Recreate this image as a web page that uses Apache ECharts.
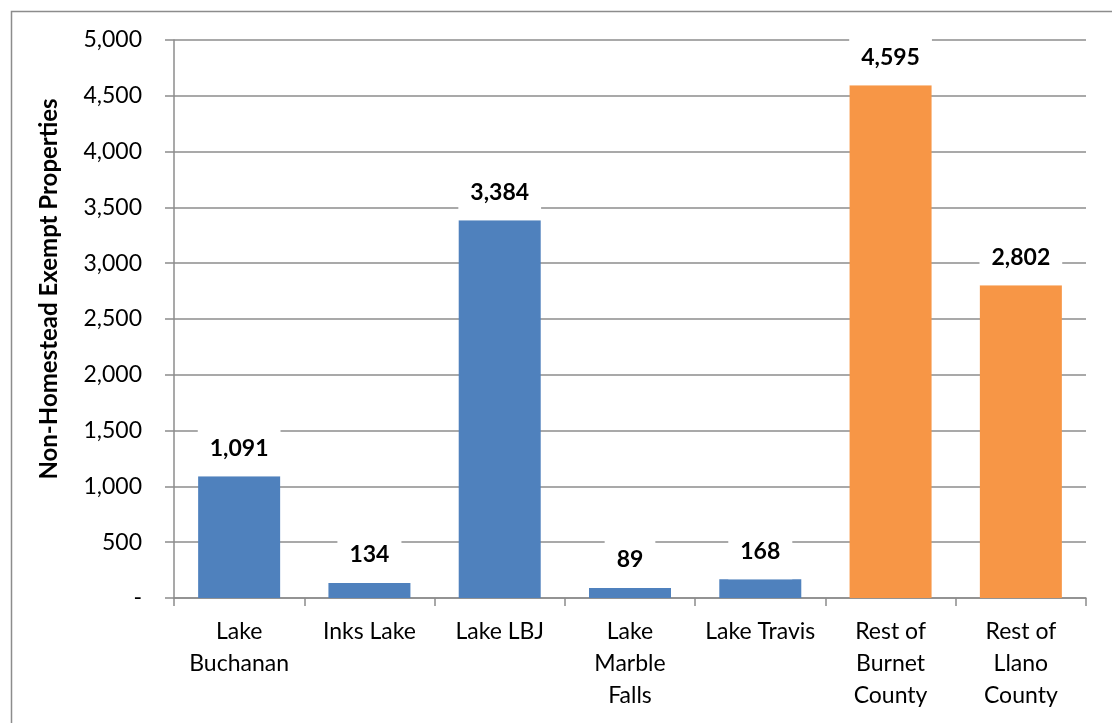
<!DOCTYPE html>
<html>
<head>
<meta charset="utf-8">
<script src="https://cdn.jsdelivr.net/npm/echarts@6/dist/echarts.min.js"></script>
<style>
html,body{margin:0;padding:0;background:#fff;}
#chart{width:1112px;height:723px;}
</style>
</head>
<body>
<div id="chart"></div>
<script>
const categories = ['Lake\nBuchanan', 'Inks Lake', 'Lake LBJ', 'Lake\nMarble\nFalls', 'Lake Travis', 'Rest of\nBurnet\nCounty', 'Rest of\nLlano\nCounty'];
const values = [1091, 134, 3384, 89, 168, 4595, 2802];
const groups = ['lake', 'lake', 'lake', 'lake', 'lake', 'rest', 'rest'];
const yTicks = [0, 500, 1000, 1500, 2000, 2500, 3000, 3500, 4000, 4500, 5000];
const yAxisTitle = 'Non-Homestead Exempt Properties';

const groupColors = { lake: '#4F81BD', rest: '#F79646' };
const FONT = 'Lato';
const fmt = v => v.toLocaleString('en-US');

const chart = echarts.init(document.getElementById('chart'));
chart.setOption({
  animation: false,
  backgroundColor: '#fff',
  textStyle: { fontFamily: FONT },
  graphic: [{
    type: 'rect', left: 9, top: 9, z: -10,
    shape: { x: 0, y: 0, width: 1200, height: 800 },
    style: { fill: 'none', stroke: '#8c8c8c', lineWidth: 1.5 }
  }],
  grid: { left: 174, right: 26, top: 40, bottom: 125 },
  xAxis: {
    type: 'category',
    data: categories,
    axisLine: { lineStyle: { color: '#8c8c8c', width: 1.5 } },
    axisTick: { show: true, length: 8, alignWithLabel: false, lineStyle: { color: '#8c8c8c', width: 1.5 } },
    axisLabel: { color: '#000', fontSize: 23, fontFamily: FONT, lineHeight: 32, margin: 18, interval: 0 }
  },
  yAxis: {
    type: 'value',
    min: yTicks[0], max: yTicks[yTicks.length - 1], interval: 500,
    name: yAxisTitle,
    nameLocation: 'middle',
    nameGap: 113,
    nameTextStyle: { color: '#000', fontSize: 24, fontWeight: 'bold', fontFamily: FONT, padding: [0, 0, 0, 60] },
    axisLine: { show: true, lineStyle: { color: '#8c8c8c', width: 1.5 } },
    axisTick: { show: true, length: 9, lineStyle: { color: '#8c8c8c', width: 1.5 } },
    splitLine: { lineStyle: { color: '#8c8c8c', width: 1.5 } },
    axisLabel: {
      color: '#000', fontSize: 23, fontFamily: FONT, margin: 32,
      formatter: v => v === 0 ? '-' : fmt(v)
    }
  },
  series: [{
    type: 'bar',
    barWidth: 82,
    data: values.map((v, i) => ({ value: v, itemStyle: { color: groupColors[groups[i]] } })),
    label: {
      show: true, position: 'top', distance: 0,
      color: '#000', fontSize: 23, fontWeight: 'bold', fontFamily: FONT, lineHeight: 24,
      backgroundColor: '#fff', padding: [14, 12, 16, 12],
      formatter: p => fmt(p.value)
    }
  }]
});
</script>
</body>
</html>
